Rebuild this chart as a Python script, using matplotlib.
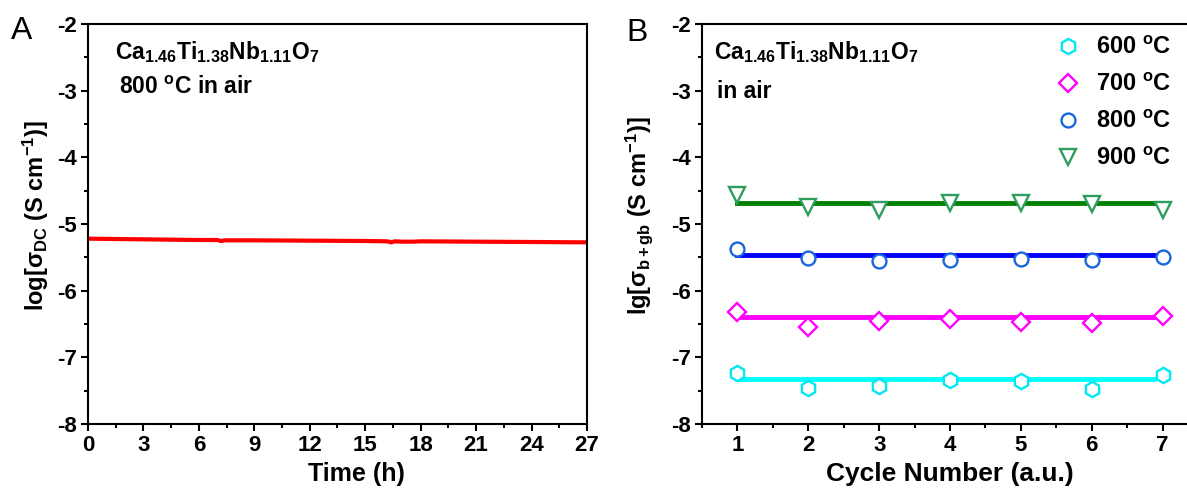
import matplotlib
matplotlib.use("Agg")
import matplotlib.pyplot as plt
from matplotlib.ticker import MultipleLocator

plt.rcParams['font.family'] = ['Liberation Sans', 'DejaVu Sans']
plt.rcParams['font.weight'] = 'bold'
plt.rcParams['axes.unicode_minus'] = False
plt.rcParams['mathtext.fontset'] = 'custom'
plt.rcParams['mathtext.rm'] = 'Liberation Sans:bold'
plt.rcParams['mathtext.bf'] = 'Liberation Sans:bold'
plt.rcParams['mathtext.it'] = 'Liberation Sans:bold'
plt.rcParams['mathtext.sf'] = 'Liberation Sans:bold'

# ---- Panel A data ----
time_h = [0, 3, 6, 7.0, 7.2, 7.4, 9, 12, 15, 16.2, 16.4, 16.6, 17.0, 17.6, 18, 21, 24, 27]
log_sigma_dc = [-5.22, -5.23, -5.24, -5.24, -5.255, -5.245, -5.245, -5.25, -5.255,
                -5.26, -5.275, -5.26, -5.265, -5.265, -5.26, -5.265, -5.27, -5.275]

# ---- Panel B data ----
cycles = [1, 2, 3, 4, 5, 6, 7]
temps = ['600 $^{o}$C', '700 $^{o}$C', '800 $^{o}$C', '900 $^{o}$C']
sig_600 = [-7.23, -7.46, -7.43, -7.34, -7.35, -7.47, -7.26]
sig_700 = [-6.32, -6.55, -6.46, -6.43, -6.47, -6.49, -6.38]
sig_800 = [-5.38, -5.51, -5.56, -5.54, -5.52, -5.54, -5.49]
sig_900 = [-4.56, -4.74, -4.79, -4.68, -4.69, -4.70, -4.79]
fit_x = [1, 6.88]
fit_levels = [-7.33, -6.40, -5.47, -4.68]

series = [sig_600, sig_700, sig_800, sig_900]
markers = ['h', 'D', 'o', 'v']
msizes = [11, 9, 10, 11.5]
edge_colors = ['#00e8f0', '#ff00ff', '#1a66dd', '#2e9e5e']
line_colors = ['#00ffff', '#ff00ff', '#0000ff', '#008000']

fig = plt.figure(figsize=(11.87, 4.95), dpi=100)
W, H = 1187, 495

def add_ax(l, r, t, b):
    return fig.add_axes([l / W, 1 - b / H, (r - l) / W, (b - t) / H])

def style(ax):
    for s in ax.spines.values():
        s.set_linewidth(1.5)
    ax.tick_params(which='major', direction='out', length=5, width=1.5,
                   labelsize=16, pad=3)
    ax.tick_params(which='minor', direction='out', length=3, width=1.5)
    for lab in ax.get_xticklabels() + ax.get_yticklabels():
        lab.set_fontweight('bold')

# Panel A
axA = add_ax(88, 587, 24, 424)
axA.plot(time_h, log_sigma_dc, color='#ff0000', lw=3)
axA.set_xlim(0, 27)
axA.set_ylim(-8, -2)
axA.xaxis.set_major_locator(MultipleLocator(3))
axA.xaxis.set_minor_locator(MultipleLocator(1.5))
axA.yaxis.set_major_locator(MultipleLocator(1))
axA.yaxis.set_minor_locator(MultipleLocator(0.5))
style(axA)
axA.set_xlabel('Time (h)', fontsize=18, fontweight='bold')
axA.xaxis.set_label_coords(0.537, -0.095)
axA.set_ylabel(r'log[$\sigma_{\mathrm{DC}}$ (S cm$^{-1}$)]', fontsize=17,
               fontweight='bold')
axA.yaxis.set_label_coords(-0.075, 0.52)
axA.text(0.055, 0.93, r'Ca$_{1.46}$Ti$_{1.38}$Nb$_{1.11}$O$_{7}$', transform=axA.transAxes,
         fontsize=16.5, fontweight='bold', va='center', ha='left')
axA.text(0.062, 0.84, r'800 $^{o}$C in air', transform=axA.transAxes,
         fontsize=16.5, fontweight='bold', va='center', ha='left')
fig.text(11 / W, 1 - 31 / H, 'A', fontsize=23, fontweight='normal', va='center', ha='left')

# Panel B
axB = add_ax(702, 1198, 24, 424)
handles = []
for vals, lvl, m, ms, ec, lc, lab in zip(series, fit_levels, markers, msizes,
                                          edge_colors, line_colors, temps):
    axB.plot(fit_x, [lvl, lvl], color=lc, lw=3.5, zorder=2)
    h, = axB.plot(cycles, vals, linestyle='none', marker=m, markersize=ms,
                  markerfacecolor='white', markeredgecolor=ec, markeredgewidth=1.7,
                  label=lab, zorder=3)
    handles.append(h)
axB.set_xlim(0.5, 7.5)
axB.set_ylim(-8, -2)
axB.xaxis.set_major_locator(MultipleLocator(1))
axB.xaxis.set_minor_locator(MultipleLocator(0.5))
axB.yaxis.set_major_locator(MultipleLocator(1))
axB.yaxis.set_minor_locator(MultipleLocator(0.5))
style(axB)
axB.set_xlabel('Cycle Number (a.u.)', fontsize=19, fontweight='bold')
axB.xaxis.set_label_coords(0.5, -0.095)
axB.set_ylabel(r'lg[$\sigma_{\mathrm{b+gb}}$ (S cm$^{-1}$)]', fontsize=17,
               fontweight='bold')
axB.yaxis.set_label_coords(-0.094, 0.52)
axB.text(0.025, 0.93, r'Ca$_{1.46}$Ti$_{1.38}$Nb$_{1.11}$O$_{7}$', transform=axB.transAxes,
         fontsize=16.5, fontweight='bold', va='center', ha='left')
axB.text(0.03, 0.83, 'in air', transform=axB.transAxes,
         fontsize=16.5, fontweight='bold', va='center', ha='left')
leg = axB.legend(handles=handles, loc='upper left', bbox_to_anchor=(0.69, 1.0),
                 frameon=False, fontsize=17, handlelength=1.0, handletextpad=0.7,
                 labelspacing=0.6, borderaxespad=0.1)
for t in leg.get_texts():
    t.set_fontweight('bold')
fig.text(626 / W, 1 - 33 / H, 'B', fontsize=23, fontweight='normal', va='center', ha='left')

fig.savefig('out.png', dpi=100)
